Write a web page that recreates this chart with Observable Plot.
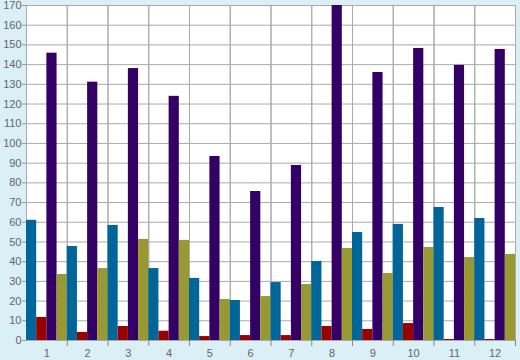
<!DOCTYPE html>
<html>
<head>
<meta charset="utf-8">
<script src="https://cdn.jsdelivr.net/npm/d3@7"></script>
<script src="https://cdn.jsdelivr.net/npm/@observablehq/plot@0.6"></script>
<style>
  html, body { margin: 0; padding: 0; background: #daeff6; }
  #chart { width: 520px; height: 360px; }
  svg { display: block; }
</style>
</head>
<body>
<div id="chart"></div>
<script>
const groups = [1, 2, 3, 4, 5, 6, 7, 8, 9, 10, 11, 12];
const seriesNames = ["S1", "S2", "S3", "S4"];
const seriesColors = ["#006699", "#990000", "#330066", "#999933"];
const s1 = [61, 47.7, 58.4, 36.5, 31.5, 20.3, 29.4, 40.1, 54.8, 58.9, 67.5, 61.9];
const s2 = [11.7, 4.1, 7.1, 4.7, 2.0, 2.5, 2.5, 7.1, 5.6, 8.6, 0.5, 0.5];
const s3 = [145.8, 131.1, 138, 123.9, 93.4, 75.6, 88.8, 170, 136, 148.2, 139.6, 147.7];
const s4 = [33.5, 36.5, 51.3, 50.8, 20.8, 22.3, 28.4, 46.7, 34, 47.2, 42.1, 43.7];
const yTicks = d3.range(0, 171, 10);

const seriesValues = [s1, s2, s3, s4];
const data = [];
groups.forEach((g, i) => {
  seriesNames.forEach((s, j) => data.push({group: g, series: s, value: seriesValues[j][i]}));
});

const chart = Plot.plot({
  width: 520,
  height: 360,
  marginLeft: 26,
  marginRight: 5,
  marginTop: 5,
  marginBottom: 20,
  style: {background: "transparent", fontFamily: "'Liberation Sans', Arial, sans-serif", fontSize: "11px"},
  fx: {domain: groups, padding: 0, round: false, axis: null, label: null},
  x: {domain: seriesNames, padding: 0, round: false, axis: null, label: null},
  y: {domain: [0, 170], axis: null, label: null},
  color: {domain: seriesNames, range: seriesColors},
  marks: [
    Plot.frame({fill: "white"}),
    Plot.gridY(yTicks, {stroke: "#aaaaaa", strokeOpacity: 1}),
    Plot.frame({stroke: "#aaaaaa"}),
    Plot.barY(data, {fx: "group", x: "series", y: "value", fill: "series"}),
    Plot.axisY({ticks: yTicks, label: null, tickSize: 4, tickPadding: 1, stroke: "#999999", fill: "#666666", tickFormat: d => d}),
    Plot.axisFx({anchor: "bottom", label: null, tickSize: 0, tickPadding: 9, fill: "#666666", fontSize: 11}),
    Plot.axisFx({anchor: "bottom", label: null, tickSize: 6, text: null, dx: 20.375, stroke: "#888888"})
  ]
});
document.getElementById("chart").appendChild(chart);
</script>
</body>
</html>
